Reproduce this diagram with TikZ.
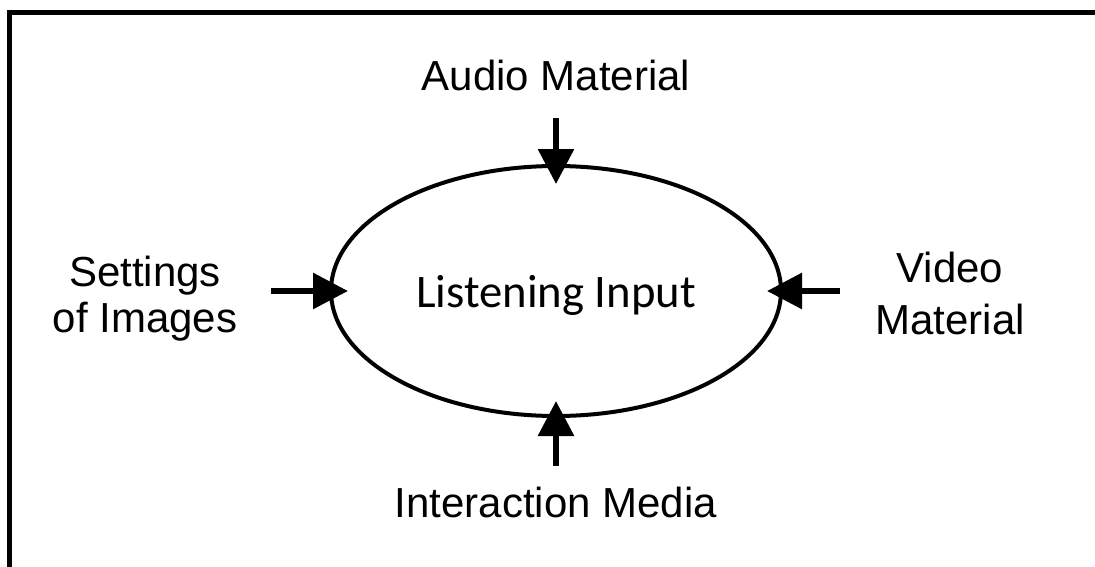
\documentclass[tikz,border=0pt]{standalone}
\usepackage{fontspec}
\setmainfont{Liberation Sans}
\newfontfamily\calibri{Carlito}
\usetikzlibrary{arrows.meta,shapes.geometric}

\tikzset{every picture/.style={line width=0.75pt}}
\tikzset{
  lbl/.style={inner sep=0pt, outer sep=0pt, font=\fontsize{31.5}{34.5}\selectfont, align=center},
  hub/.style={draw, ellipse, line width=3pt, inner sep=0pt, outer sep=0pt,
    minimum width=337.5pt, minimum height=187.5pt, text depth=0pt,
    font=\calibri\fontsize{35}{40}\selectfont},
  feed/.style={line width=4.5pt, -{Triangle[length=26.25pt, width=26.25pt]}}
}

\begin{document}
\begin{tikzpicture}[x=0.75pt,y=0.75pt,yscale=-1,xscale=1]

\clip (0,0) rectangle (1095,567);

%Shape: Frame (open at right and bottom)
\draw [line width=3.75pt] (9.5,12.5) rectangle (1120,600);

%Shape: Ellipse
\node [hub] (input) at (556,291) {Listening Input};

% Text Node
\node [lbl, anchor=base] (audio) at (556,90) {Audio Material};
% Text Node
\node [lbl] (settings) at (145,299) {Settings\\of Images};
% Text Node
\node [lbl, font=\fontsize{31.5}{39}\selectfont] (video) at (950,293) {Video\\Material};
% Text Node
\node [lbl, anchor=base] (media) at (556,517) {Interaction Media};

%Straight Lines
\draw [feed, shorten <=21pt, shorten >=-13.5pt] (audio.south) -- (input.north);
\draw [feed, shorten <=25.5pt, shorten >=-12.75pt] (settings.east |- input.west) -- (input.west);
\draw [feed, shorten <=26.25pt, shorten >=-10.5pt] (video.west |- input.east) -- (input.east);
\draw [feed, shorten <=15.75pt, shorten >=-11.25pt] (media.north) -- (input.south);

\end{tikzpicture}
\end{document}
